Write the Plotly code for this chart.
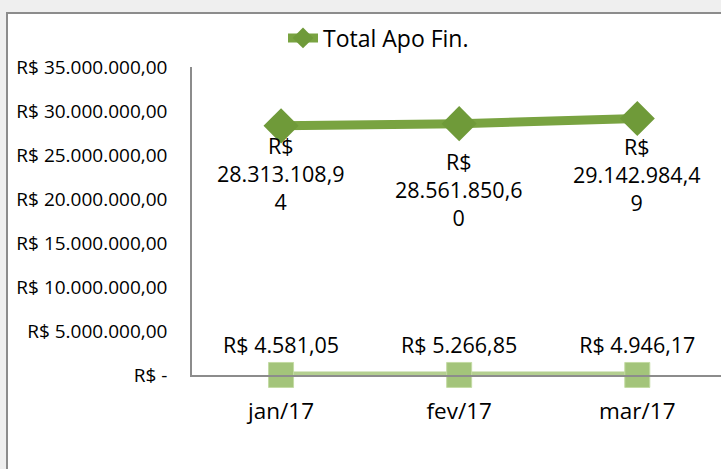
import plotly.graph_objects as go

months = ["jan/17", "fev/17", "mar/17"]
total_apo_fin = [28313108.94, 28561850.60, 29142984.49]
total_apo_fin_labels = ["R$<br>28.313.108,9<br>4", "R$<br>28.561.850,6<br>0", "R$<br>29.142.984,4<br>9"]
second_series = [4581.05, 5266.85, 4946.17]
second_labels = ["R$ 4.581,05", "R$ 5.266,85", "R$ 4.946,17"]
y_tickvals = [0, 5e6, 10e6, 15e6, 20e6, 25e6, 30e6, 35e6]
y_ticktext = ["R$ -", "R$ 5.000.000,00", "R$ 10.000.000,00", "R$ 15.000.000,00",
              "R$ 20.000.000,00", "R$ 25.000.000,00", "R$ 30.000.000,00", "R$ 35.000.000,00"]

FONT = "Open Sans"
LABEL_SHIFTS = [-48, -66, -56]  # style: vertical label offsets below markers (px)

fig = go.Figure()
fig.add_trace(go.Scatter(
    x=months, y=second_series, mode="lines+markers+text",
    line=dict(color="#b4cf90", width=7),
    marker=dict(symbol="square", size=25, color="#a3c47a", line=dict(color="#c4dba4", width=1)),
    text=second_labels, textposition="top center",
    textfont=dict(family=FONT, size=21.5, color="#000"),
    showlegend=False, cliponaxis=False,
))
fig.add_trace(go.Scatter(
    x=months, y=total_apo_fin, mode="lines+markers", name="Total Apo Fin.",
    line=dict(color="#79a341", width=9),
    marker=dict(symbol="diamond", size=27, color="#6f9a39"),
    cliponaxis=False,
))
for m, v, t, s in zip(months, total_apo_fin, total_apo_fin_labels, LABEL_SHIFTS):
    fig.add_annotation(x=m, y=v, text=t, showarrow=False, yanchor="middle", yshift=s,
                       font=dict(family=FONT, size=21.5, color="#000"))

W, H = 721, 469
L, R, T, B = 192, 0, 67, 94
pw, ph = W - L - R, H - T - B

def px_x(p):
    return (p - L) / pw

def px_y(p):
    return (H - B - p) / ph

fig.add_shape(type="rect", xref="paper", yref="paper",
              x0=px_x(7), x1=px_x(730), y0=px_y(13), y1=px_y(480),
              fillcolor="white", line=dict(color="#8c8c8c", width=2), layer="below")

fig.update_layout(
    width=W, height=H,
    margin=dict(l=L, r=R, t=T, b=B, autoexpand=False),
    paper_bgcolor="#efefef", plot_bgcolor="rgba(0,0,0,0)",
    font=dict(family=FONT, size=17, color="#000"),
    legend=dict(orientation="h", x=px_x(283), xanchor="left", y=px_y(38), yanchor="middle",
                font=dict(family=FONT, size=23), bgcolor="rgba(0,0,0,0)"),
    xaxis=dict(range=[-0.5, 2.47], showgrid=False, showline=True, linecolor="#8c8c8c",
               linewidth=1.5, ticks="", tickfont=dict(size=22.5), ticklabelstandoff=15,
               zeroline=False, automargin=False),
    yaxis=dict(range=[0, 35e6], tickvals=y_tickvals, ticktext=y_ticktext, showgrid=False,
               showline=True, linecolor="#8c8c8c", linewidth=1.5, ticks="",
               tickfont=dict(size=19), ticklabelstandoff=19, zeroline=False, automargin=False),
)

fig.write_html("out.html", config={"displayModeBar": False},
               post_script="document.body.style.margin='0';document.body.style.overflow='hidden';")
